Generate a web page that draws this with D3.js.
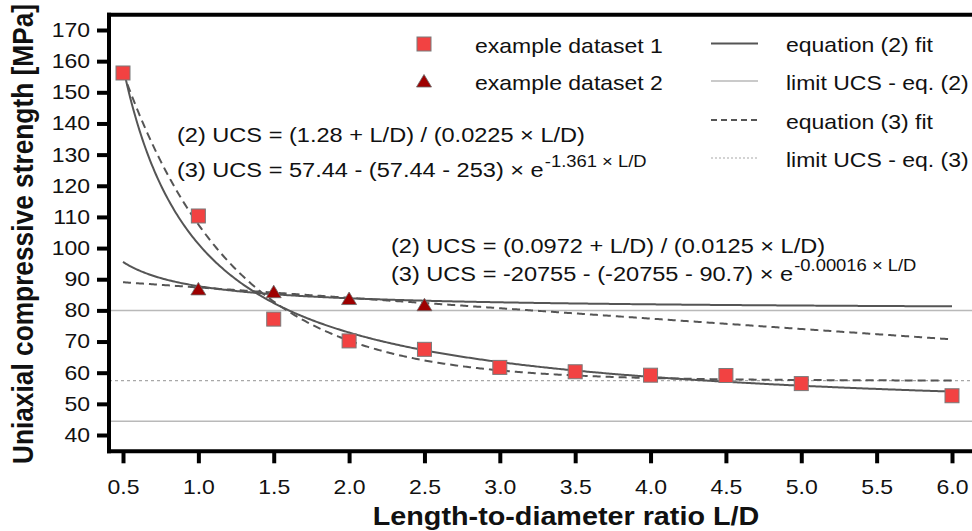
<!DOCTYPE html>
<html>
<head>
<meta charset="utf-8">
<script src="https://cdn.jsdelivr.net/npm/d3@7"></script>
<style>
  body { margin: 0; background: #fff; }
  svg { display: block; }
  text { font-family: "Liberation Sans", Arial, Helvetica, sans-serif; fill: #111; }
</style>
</head>
<body>
<svg id="chart" width="972" height="531"></svg>
<script>
// ---- data ----
const ratioLD1 = [0.5, 1.0, 1.5, 2.0, 2.5, 3.0, 3.5, 4.0, 4.5, 5.0, 6.0];
const ucs1     = [156.2, 110.3, 77.2, 70.2, 67.5, 61.7, 60.3, 59.2, 59.1, 56.5, 52.6];
const ratioLD2 = [1.0, 1.5, 2.0, 2.5];
const ucs2     = [86.9, 86.0, 83.8, 81.8];

const xTicks = [0.5, 1.0, 1.5, 2.0, 2.5, 3.0, 3.5, 4.0, 4.5, 5.0, 5.5, 6.0];
const yTicks = [40, 50, 60, 70, 80, 90, 100, 110, 120, 130, 140, 150, 160, 170];

// fitted parameters: eq. (2) UCS = (a + L/D) / (b * L/D), eq. (3) UCS = c - (c - u0) * exp(-k * L/D)
const eq2Params = [{ a: 1.28, b: 0.0225 }, { a: 0.0972, b: 0.0125 }];
const eq3Params = [{ c: 57.44, u0: 253, k: 1.361 }, { c: -20755, u0: 90.7, k: 0.00016 }];
const fitRange = [0.5, 6.0];

const legendMarkers = ["example dataset 1", "example dataset 2"];
const legendLines = ["equation (2) fit", "limit UCS - eq. (2)", "equation (3) fit", "limit UCS - eq. (3)"];

const eqLabels = [
  { l2: "(2) UCS = (1.28 + L/D) / (0.0225 \u00d7 L/D)",
    l3: "(3) UCS = 57.44 - (57.44 - 253) \u00d7 e", sup: "-1.361 \u00d7 L/D" },
  { l2: "(2) UCS = (0.0972 + L/D) / (0.0125 \u00d7 L/D)",
    l3: "(3) UCS = -20755 - (-20755 - 90.7) \u00d7 e", sup: "-0.00016 \u00d7 L/D" }
];

// ---- layout ----
const W = 972, H = 531;
const SX = 1.15;               // horizontal text stretch
const axisLeftX = 109, axisTopY = 14.7, axisBottomY = 451.3;

const x = d3.scaleLinear().domain([0.5, 6.0]).range([123, 952]);
const y = d3.scaleLinear().domain([40, 170]).range([435, 30]);

const svg = d3.select("#chart");

const eq2 = p => t => (p.a + t) / (p.b * t);
const eq3 = p => t => p.c - (p.c - p.u0) * Math.exp(-p.k * t);

const COL_FIT = "#555555", COL_LIM = "#b9b9b9";

// ---- limit lines ----
const limits = [
  { v: 1 / eq2Params[0].b, dash: null, w: 1.5, c: COL_LIM },
  { v: 1 / eq2Params[1].b, dash: null, w: 1.5, c: COL_LIM },
  { v: eq3Params[0].c, dash: "3,3", w: 1.3, c: "#a8a8a8" }
];
svg.append("g").selectAll("line").data(limits).join("line")
  .attr("x1", axisLeftX).attr("x2", W)
  .attr("y1", d => y(d.v)).attr("y2", d => y(d.v))
  .attr("stroke", d => d.c).attr("stroke-width", d => d.w)
  .attr("stroke-dasharray", d => d.dash);

// ---- fit curves ----
const ts = d3.range(fitRange[0], fitRange[1] + 1e-9, 0.01);
const line = d3.line().x(d => x(d[0])).y(d => y(d[1]));
const curves = [];
eq2Params.forEach(p => curves.push({ f: eq2(p), dash: null }));
eq3Params.forEach(p => curves.push({ f: eq3(p), dash: "8,5" }));
svg.append("g").selectAll("path").data(curves).join("path")
  .attr("d", d => line(ts.map(t => [t, d.f(t)])))
  .attr("fill", "none").attr("stroke", COL_FIT).attr("stroke-width", 2)
  .attr("stroke-dasharray", d => d.dash);

// ---- markers ----
const sq = 14;
svg.append("g").selectAll("rect").data(ratioLD1.map((t, i) => [t, ucs1[i]])).join("rect")
  .attr("x", d => x(d[0]) - sq / 2).attr("y", d => y(d[1]) - sq / 2)
  .attr("width", sq).attr("height", sq)
  .attr("fill", "#f24242").attr("stroke", "#7a7a7a").attr("stroke-width", 1);

const triPath = "M0,-6.5L7.5,6L-7.5,6Z";
svg.append("g").selectAll("path").data(ratioLD2.map((t, i) => [t, ucs2[i]])).join("path")
  .attr("d", triPath)
  .attr("transform", d => `translate(${x(d[0])},${y(d[1])})`)
  .attr("fill", "#9e0000").attr("stroke", "#6a6a6a").attr("stroke-width", 0.8);

// ---- axes ----
const yAxis = d3.axisLeft(y).tickValues(yTicks).tickSize(12).tickPadding(7).tickFormat(d3.format("d"));
const gy = svg.append("g").attr("transform", `translate(${axisLeftX},0)`).call(yAxis);
gy.select(".domain").remove();
gy.selectAll(".tick line").attr("stroke", "#000").attr("stroke-width", 4);
gy.selectAll(".tick text")
  .attr("font-size", 20).attr("font-family", "Liberation Sans, Arial, sans-serif").attr("fill", "#111")
  .attr("x", -19 / SX).attr("transform", `scale(${SX},1)`);

const xAxis = d3.axisBottom(x).tickValues(xTicks).tickSize(12).tickPadding(17).tickFormat(d3.format(".1f"));
const gx = svg.append("g").attr("transform", `translate(0,${axisBottomY})`).call(xAxis);
gx.select(".domain").remove();
gx.selectAll(".tick line").attr("stroke", "#000").attr("stroke-width", 4);
gx.selectAll(".tick text")
  .attr("font-size", 20).attr("font-family", "Liberation Sans, Arial, sans-serif").attr("fill", "#111")
  .attr("transform", `scale(${SX},1)`);

// frame
const frame = svg.append("g").attr("stroke", "#000").attr("stroke-width", 4);
frame.append("line").attr("x1", axisLeftX).attr("x2", axisLeftX).attr("y1", axisTopY - 2).attr("y2", axisBottomY + 2);
frame.append("line").attr("x1", axisLeftX - 2).attr("x2", W).attr("y1", axisTopY).attr("y2", axisTopY);
frame.append("line").attr("x1", axisLeftX - 2).attr("x2", W).attr("y1", axisBottomY).attr("y2", axisBottomY);

// ---- axis titles ----
svg.append("text")
  .attr("transform", `translate(566,525) scale(${SX},1)`)
  .attr("text-anchor", "middle").attr("font-weight", "bold").attr("font-size", 25)
  .text("Length-to-diameter ratio L/D");
svg.append("text")
  .attr("transform", `translate(33,234) rotate(-90) scale(1,${SX})`)
  .attr("text-anchor", "middle").attr("font-weight", "bold").attr("font-size", 26.3)
  .text("Uniaxial compressive strength [MPa]");

// ---- equation annotations ----
const eqPos = [{ x: 177, y2: 142, y3: 177 }, { x: 391, y2: 253, y3: 281 }];
eqLabels.forEach((e, i) => {
  const p = eqPos[i];
  svg.append("text").attr("transform", `translate(${p.x},${p.y2}) scale(${SX},1)`)
    .attr("font-size", 20.5).text(e.l2);
  const t3 = svg.append("text").attr("transform", `translate(${p.x},${p.y3}) scale(${SX},1)`)
    .attr("font-size", 20.5);
  t3.append("tspan").text(e.l3);
  t3.append("tspan").attr("dx", 1).attr("dy", -10).attr("font-size", 16).text(e.sup);
});

// ---- legend ----
const legRowsL = [44, 81];
const legRowsR = [43.5, 81, 120, 158];
const lg = svg.append("g");
lg.append("rect").attr("x", 424 - sq / 2).attr("y", legRowsL[0] - sq / 2).attr("width", sq).attr("height", sq)
  .attr("fill", "#f24242").attr("stroke", "#7a7a7a").attr("stroke-width", 1);
lg.append("path").attr("d", triPath).attr("transform", `translate(424,${legRowsL[1]})`)
  .attr("fill", "#9e0000").attr("stroke", "#6a6a6a").attr("stroke-width", 0.8);
legendMarkers.forEach((s, i) => {
  lg.append("text").attr("transform", `translate(475,${legRowsL[i] + 8.5}) scale(${SX},1)`)
    .attr("font-size", 20).text(s);
});
const legStyles = [
  { c: COL_FIT, w: 2, dash: null },
  { c: COL_LIM, w: 1.5, dash: null },
  { c: COL_FIT, w: 2, dash: "6,4" },
  { c: "#a8a8a8", w: 1.2, dash: "2,2" }
];
legendLines.forEach((s, i) => {
  lg.append("line").attr("x1", 711).attr("x2", 758)
    .attr("y1", legRowsR[i]).attr("y2", legRowsR[i])
    .attr("stroke", legStyles[i].c).attr("stroke-width", legStyles[i].w)
    .attr("stroke-dasharray", legStyles[i].dash);
  lg.append("text").attr("transform", `translate(786,${legRowsR[i] + 8.5}) scale(${SX},1)`)
    .attr("font-size", 20).text(s);
});
</script>
</body>
</html>
